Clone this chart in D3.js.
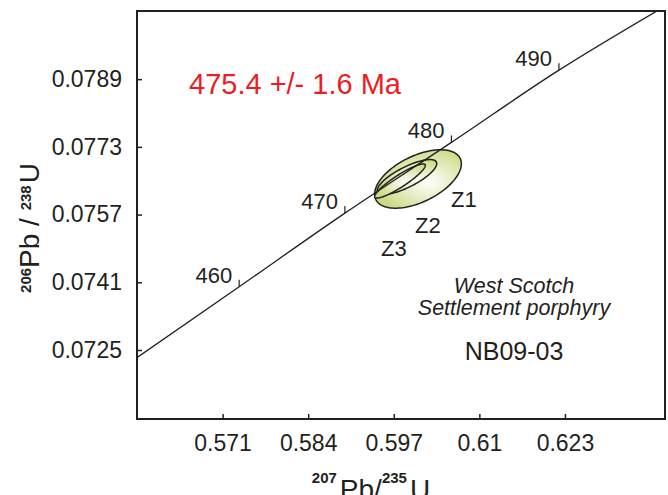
<!DOCTYPE html>
<html>
<head>
<meta charset="utf-8">
<script src="https://cdn.jsdelivr.net/npm/d3@7"></script>
<style>
  html, body { margin: 0; padding: 0; background: #fff; }
  svg text { font-family: "Liberation Sans", Arial, sans-serif; fill: #231f20; }
</style>
</head>
<body>
<div id="chart"></div>
<script>
// axis ticks (as labelled on the plot)
const xTicks = [0.571, 0.584, 0.597, 0.61, 0.623];
const yTicks = [0.0789, 0.0773, 0.0757, 0.0741, 0.0725];
const xDomain = [0.558, 0.6382];
const yDomain = [0.07087, 0.08051];

// concordia: [207Pb/235U, 206Pb/238U]
const concordia = [
  [0.55798, 0.072318],
  [0.57352, 0.073995],
  [0.58958, 0.075735],
  [0.60576, 0.077405],
  [0.62209, 0.079112],
  [0.63693, 0.080506]
];
// age marks on the concordia (Ma) -> index into concordia
const ageMarks = [
  { age: 460, i: 1 },
  { age: 470, i: 2 },
  { age: 480, i: 3 },
  { age: 490, i: 4 }
];

// zircon error ellipses: centre, half-extents, correlation
const zircons = [
  { name: "Z1", x: 0.60068, y: 0.076541, sx: 0.00659, sy: 0.00069, rho: 0.52 },
  { name: "Z2", x: 0.59901, y: 0.076588, sx: 0.00452, sy: 0.000412, rho: 0.77 },
  { name: "Z3", x: 0.59795, y: 0.076493, sx: 0.00385, sy: 0.000404, rho: 0.91 }
];

const width = 668;
const height = 495;
const frame = { left: 137, right: 665, top: 11, bottom: 419 };

const svg = d3.select("#chart")
  .append("svg")
  .attr("width", width)
  .attr("height", height);

const x = d3.scaleLinear().domain(xDomain).range([frame.left, frame.right]);
const y = d3.scaleLinear().domain(yDomain).range([frame.bottom, frame.top]);

const defs = svg.append("defs");
const grad = defs.append("radialGradient")
  .attr("id", "zfill")
  .attr("cx", 0.62).attr("cy", 0.55).attr("r", 0.6);
grad.append("stop").attr("offset", "0%").attr("stop-color", "#ffffff");
grad.append("stop").attr("offset", "100%").attr("stop-color", "#cdda84");

defs.append("clipPath").attr("id", "plotclip")
  .append("rect")
  .attr("x", frame.left).attr("y", frame.top)
  .attr("width", frame.right - frame.left)
  .attr("height", frame.bottom - frame.top);

// ellipses
function ellipsePoints(d) {
  const pts = [];
  const k = Math.sqrt(1 - d.rho * d.rho);
  for (let i = 0; i <= 120; i++) {
    const t = i / 120 * 2 * Math.PI;
    pts.push([d.x + d.sx * Math.cos(t), d.y + d.sy * (d.rho * Math.cos(t) + k * Math.sin(t))]);
  }
  return pts;
}
const ell = d3.line().x(p => x(p[0])).y(p => y(p[1])).curve(d3.curveLinearClosed);

svg.append("g")
  .selectAll("path")
  .data(zircons)
  .enter()
  .append("path")
  .attr("d", d => ell(ellipsePoints(d)))
  .attr("fill", "url(#zfill)")
  .attr("stroke", "#231f20")
  .attr("stroke-width", 1.5);

// concordia line
svg.append("path")
  .datum(concordia)
  .attr("clip-path", "url(#plotclip)")
  .attr("d", d3.line().x(p => x(p[0])).y(p => y(p[1])).curve(d3.curveMonotoneX))
  .attr("fill", "none")
  .attr("stroke", "#231f20")
  .attr("stroke-width", 1.3);

const marks = svg.append("g")
  .selectAll("g")
  .data(ageMarks)
  .enter()
  .append("g")
  .attr("transform", d => `translate(${x(concordia[d.i][0])},${y(concordia[d.i][1])})`);

marks.append("line")
  .attr("y1", 0).attr("y2", -7)
  .attr("stroke", "#231f20")
  .attr("stroke-width", 1.2);

marks.append("text")
  .attr("x", -7).attr("y", -4)
  .attr("text-anchor", "end")
  .style("font-size", "22px")
  .text(d => d.age);

// frame
svg.append("rect")
  .attr("x", frame.left).attr("y", frame.top)
  .attr("width", frame.right - frame.left)
  .attr("height", frame.bottom - frame.top)
  .attr("fill", "none")
  .attr("stroke", "#231f20")
  .attr("stroke-width", 2);

// axes
const xAxis = svg.append("g")
  .attr("transform", `translate(0,${frame.bottom})`)
  .call(d3.axisBottom(x).tickValues(xTicks).tickSizeInner(-5).tickSizeOuter(0).tickPadding(16)
    .tickFormat(d => String(d)));
const yAxis = svg.append("g")
  .attr("transform", `translate(${frame.left},0)`)
  .call(d3.axisLeft(y).tickValues(yTicks).tickSizeInner(-5).tickSizeOuter(0).tickPadding(15)
    .tickFormat(d => String(d)));

[xAxis, yAxis].forEach(a => {
  a.select(".domain").remove();
  a.selectAll(".tick line").attr("stroke", "#231f20").attr("stroke-width", 1.5);
  a.selectAll(".tick text")
    .style("font-family", "'Liberation Sans', Arial, sans-serif")
    .style("font-size", "23px")
    .attr("fill", "#231f20");
});

// axis titles
const xt = svg.append("text")
  .attr("x", 371).attr("y", 499)
  .attr("text-anchor", "middle");
xt.append("tspan").attr("dy", -16).style("font-size", "15px").style("font-weight", "bold").text("207");
xt.append("tspan").attr("dy", 16).attr("dx", 3).style("font-size", "28px").text("Pb");
xt.append("tspan").style("font-size", "28px").text("/");
xt.append("tspan").attr("dy", -16).style("font-size", "15px").style("font-weight", "bold").text("235");
xt.append("tspan").attr("dy", 16).attr("dx", 3).style("font-size", "28px").text("U");

const yt = svg.append("text")
  .attr("transform", "translate(39,228) rotate(-90)")
  .attr("text-anchor", "middle");
yt.append("tspan").attr("dy", -8).style("font-size", "15px").style("font-weight", "bold").text("206");
yt.append("tspan").attr("dy", 8).style("font-size", "28px").text("Pb / ");
yt.append("tspan").attr("dy", -8).style("font-size", "15px").style("font-weight", "bold").text("238");
yt.append("tspan").attr("dy", 8).attr("dx", 2).style("font-size", "28px").text("U");

// annotations
svg.append("text")
  .attr("x", 189).attr("y", 94)
  .style("font-size", "29px")
  .style("fill", "#ed1c24")
  .text("475.4 +/- 1.6 Ma");

const zLabelPos = { Z1: [451, 207], Z2: [415, 233], Z3: [381, 256] };
svg.append("g")
  .selectAll("text")
  .data(zircons)
  .enter()
  .append("text")
  .attr("x", d => zLabelPos[d.name][0])
  .attr("y", d => zLabelPos[d.name][1])
  .style("font-size", "22px")
  .text(d => d.name);

svg.append("text")
  .attr("x", 514).attr("y", 293)
  .attr("text-anchor", "middle")
  .style("font-size", "21.5px").style("font-style", "italic")
  .text("West Scotch");
svg.append("text")
  .attr("x", 514).attr("y", 315)
  .attr("text-anchor", "middle")
  .style("font-size", "21.5px").style("font-style", "italic")
  .text("Settlement porphyry");
svg.append("text")
  .attr("x", 514).attr("y", 360)
  .attr("text-anchor", "middle")
  .style("font-size", "25px")
  .text("NB09-03");
</script>
</body>
</html>
